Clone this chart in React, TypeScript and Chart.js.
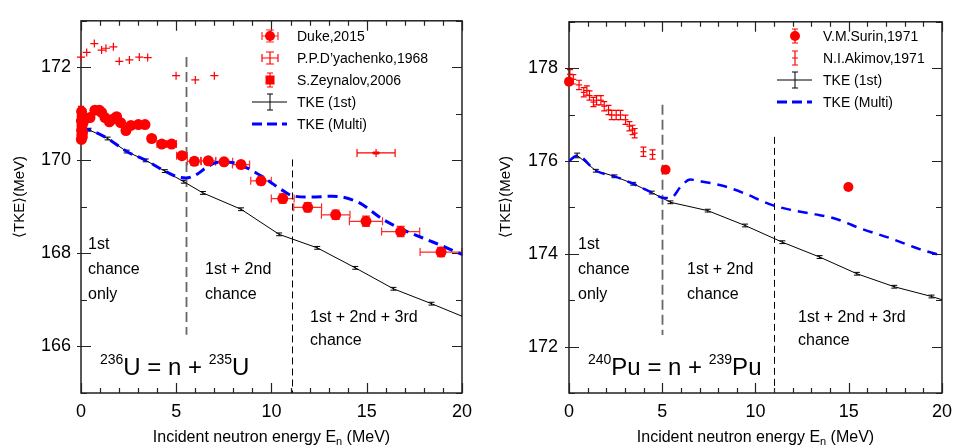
import React, { useEffect, useRef } from "react";
import { Chart, registerables } from "chart.js";
Chart.register(...registerables);

const FONT = '"Liberation Sans", Arial, Helvetica, sans-serif';
const RED = "#ff0000";
const BLUE = "#0000ff";

// ---------- shared x axis ----------
const xTickLabels = [0, 5, 10, 15, 20];

// ---------- U-236 panel ----------
const uYTicks = [166, 168, 170, 172];

const uDukeE = [0.02, 0.04, 0.03, 0.05, 0.02, 0.06, 0.03, 0.08, 0.1, 0.07,
  0.21, 0.47, 0.73, 0.96, 1.08, 1.26, 1.49, 1.7, 1.87, 2.08, 2.36, 2.62, 3.01, 3.36,
  3.71, 4.24, 4.76, 5.3, 5.95, 6.68, 7.51, 8.4, 9.45, 10.59, 11.9, 13.37, 14.96, 16.78, 18.9];
const uDukeTKE = [170.45, 170.55, 170.65, 170.75, 170.85, 170.95, 171.05, 170.6, 170.8, 170.5,
  170.89, 170.92, 171.08, 171.08, 171.03, 170.92, 170.83, 170.89, 170.94, 170.81, 170.64, 170.75, 170.77, 170.77,
  170.47, 170.35, 170.35, 170.1, 169.98, 169.99, 169.97, 169.91, 169.56, 169.18, 168.99, 168.83, 168.69, 168.47, 168.03];
const uDukeXErr = [0, 0, 0, 0, 0, 0, 0, 0, 0, 0,
  0, 0, 0, 0, 0, 0, 0, 0, 0, 0, 0, 0, 0, 0,
  0.15, 0.25, 0.25, 0.28, 0.37, 0.4, 0.45, 0.45, 0.54, 0.6, 0.73, 0.75, 0.87, 1.0, 1.1];
const uDukeYErr = [0.05, 0.05, 0.05, 0.05, 0.05, 0.05, 0.05, 0.05, 0.05, 0.05,
  0.05, 0.05, 0.05, 0.05, 0.05, 0.05, 0.05, 0.05, 0.05, 0.05, 0.05, 0.05, 0.05, 0.05,
  0.05, 0.05, 0.05, 0.06, 0.08, 0.07, 0.07, 0.07, 0.08, 0.1, 0.1, 0.1, 0.11, 0.11, 0.1];

const uDyachE = [0, 0.3, 0.7, 1.08, 1.31, 1.7, 2.01, 2.54, 3.06, 3.5, 4.99, 6.0, 7.0, 15.49];
const uDyachTKE = [172.22, 172.32, 172.51, 172.37, 172.41, 172.44, 172.13, 172.16, 172.22, 172.21, 171.82, 171.73, 171.82, 170.16];
const uDyachXErr = [0, 0, 0, 0, 0, 0, 0, 0, 0, 0, 0, 0, 0, 1.0];
const uDyachYErr = [0, 0, 0, 0, 0, 0, 0, 0, 0, 0, 0, 0, 0, 0.02];

const uZeynE = [0.0];
const uZeynTKE = [171.1];
const uZeynYErr = [0.06];

const uFirstE = [0, 0.4, 1.4, 2.4, 3.4, 4.4, 5.4, 6.4, 8.4, 10.4, 12.4, 14.4, 16.4, 18.4, 20];
const uFirstTKE = [170.68, 170.66, 170.47, 170.19, 170.0, 169.77, 169.54, 169.3, 168.95, 168.41, 168.12, 167.69, 167.24, 166.92, 166.65];
const uFirstErr = [0, 0.03, 0.03, 0.03, 0.03, 0.03, 0.03, 0.03, 0.03, 0.03, 0.03, 0.03, 0.03, 0.03, 0];

const uMultiE = [0, 0.4, 1.4, 2.4, 3.4, 4.4, 4.9, 5.5, 6.0, 6.6, 7.2, 7.8, 8.7, 9.6, 10.6, 11.1, 12.0, 13.2, 14.5, 15.9, 16.9, 18.5, 20];
const uMultiTKE = [170.68, 170.66, 170.47, 170.19, 170.0, 169.77, 169.67, 169.62, 169.68, 169.85, 169.96, 169.96, 169.84, 169.63, 169.35, 169.24, 169.21, 169.23, 169.11, 168.72, 168.51, 168.24, 167.98];

const uThresholds = [5.5, 11.1];

// ---------- Pu-240 panel ----------
const pYTicks = [172, 174, 176, 178];

const pSurinE = [0.0, 5.18, 14.98];
const pSurinTKE = [177.71, 175.81, 175.44];
const pSurinYErr = [0.07, 0.07, 0.07];

const pAkimovE = [0.05, 0.23, 0.54, 0.79, 0.96, 1.1, 1.31, 1.48, 1.71, 1.89, 2.12, 2.29, 2.53, 2.76, 3.03, 3.24, 3.41, 3.52, 3.99, 4.48];
const pAkimovTKE = [177.87, 177.76, 177.64, 177.48, 177.52, 177.41, 177.27, 177.31, 177.31, 177.18, 177.1, 176.99, 176.99, 176.99, 176.89, 176.75, 176.67, 176.6, 176.2, 176.14];
const pAkimovYErr = [0.1, 0.1, 0.1, 0.1, 0.1, 0.1, 0.1, 0.1, 0.1, 0.1, 0.1, 0.1, 0.1, 0.1, 0.1, 0.1, 0.1, 0.1, 0.1, 0.1];

const pFirstE = [0, 0.44, 1.44, 2.44, 3.44, 4.44, 5.44, 7.44, 9.44, 11.44, 13.44, 15.44, 17.44, 19.44, 20];
const pFirstTKE = [176.0, 176.12, 175.79, 175.67, 175.51, 175.32, 175.11, 174.93, 174.61, 174.25, 173.93, 173.57, 173.29, 173.08, 173.01];
const pFirstErr = [0, 0.05, 0.03, 0.03, 0.03, 0.03, 0.03, 0.03, 0.03, 0.03, 0.03, 0.03, 0.03, 0.03, 0];

const pMultiE = [0, 0.44, 1.44, 2.44, 3.44, 4.44, 5.0, 5.45, 6.0, 6.5, 7.1, 8.3, 9.3, 10.9, 12.1, 13.2, 14.0, 14.75, 15.6, 17.2, 18.8, 20];
const pMultiTKE = [176.0, 176.12, 175.79, 175.67, 175.51, 175.32, 175.21, 175.2, 175.45, 175.6, 175.56, 175.46, 175.32, 175.05, 174.93, 174.85, 174.79, 174.69, 174.55, 174.34, 174.1, 173.96];

const pThresholds = [5, 11];

// ---------- helpers ----------
const pts = (xs: number[], ys: number[]) => xs.map((x, i) => ({ x, y: ys[i] }));

const errorBarPlugin = {
  id: "errorBars",
  beforeDatasetsDraw(chart: any) {
    const { ctx } = chart;
    const xs = chart.scales.x;
    const ys = chart.scales.y;
    chart.data.datasets.forEach((ds: any) => {
      if (!ds.errX && !ds.errY) return;
      ctx.save();
      ctx.strokeStyle = ds.errColor || "#000";
      ctx.lineWidth = ds.errWidth || 1;
      ds.data.forEach((p: any, i: number) => {
        const px = xs.getPixelForValue(p.x);
        const py = ys.getPixelForValue(p.y);
        const ex = ds.errX ? ds.errX[i] : 0;
        const ey = ds.errY ? ds.errY[i] : 0;
        ctx.beginPath();
        if (ex > 0) {
          const x0 = xs.getPixelForValue(p.x - ex);
          const x1 = xs.getPixelForValue(p.x + ex);
          ctx.moveTo(x0, py); ctx.lineTo(x1, py);
          const c = ds.capX || 0;
          if (c) { ctx.moveTo(x0, py - c); ctx.lineTo(x0, py + c); ctx.moveTo(x1, py - c); ctx.lineTo(x1, py + c); }
        }
        if (ey > 0) {
          const y0 = ys.getPixelForValue(p.y - ey);
          const y1 = ys.getPixelForValue(p.y + ey);
          ctx.moveTo(px, y0); ctx.lineTo(px, y1);
          const c = ds.capY || 0;
          if (c) { ctx.moveTo(px - c, y0); ctx.lineTo(px + c, y0); ctx.moveTo(px - c, y1); ctx.lineTo(px + c, y1); }
        }
        ctx.stroke();
      });
      ctx.restore();
    });
  },
};

function drawLegendSymbol(ctx: CanvasRenderingContext2D, kind: string, x: number, y: number) {
  ctx.save();
  const capV = (cx: number, y0: number, y1: number, c: number) => {
    ctx.moveTo(cx, y0); ctx.lineTo(cx, y1);
    ctx.moveTo(cx - c, y0); ctx.lineTo(cx + c, y0);
    ctx.moveTo(cx - c, y1); ctx.lineTo(cx + c, y1);
  };
  const capH = (cy: number, x0: number, x1: number, c: number) => {
    ctx.moveTo(x0, cy); ctx.lineTo(x1, cy);
    ctx.moveTo(x0, cy - c); ctx.lineTo(x0, cy + c);
    ctx.moveTo(x1, cy - c); ctx.lineTo(x1, cy + c);
  };
  if (kind === "circleXY" || kind === "crossXY") {
    ctx.strokeStyle = kind === "circleXY" ? "#ff2a2a" : RED;
    ctx.lineWidth = 1.2;
    ctx.beginPath();
    capH(y, x - 8, x + 8, 4);
    capV(x, y - 6, y + 6, 4);
    ctx.stroke();
    if (kind === "circleXY") {
      ctx.fillStyle = RED;
      ctx.beginPath(); ctx.arc(x, y, 5, 0, Math.PI * 2); ctx.fill();
    }
  } else if (kind === "squareY") {
    ctx.strokeStyle = RED; ctx.lineWidth = 1.2;
    ctx.beginPath(); capV(x, y - 7, y + 7, 3); ctx.stroke();
    ctx.fillStyle = RED; ctx.fillRect(x - 4.5, y - 4.5, 9, 9);
  } else if (kind === "circleY") {
    ctx.strokeStyle = RED; ctx.lineWidth = 1.2;
    ctx.beginPath(); capV(x, y - 7, y + 7, 3); ctx.stroke();
    ctx.fillStyle = RED;
    ctx.beginPath(); ctx.arc(x, y, 5, 0, Math.PI * 2); ctx.fill();
  } else if (kind === "barY") {
    ctx.strokeStyle = RED; ctx.lineWidth = 1.2;
    ctx.beginPath(); capV(x, y - 7, y + 7, 3); ctx.moveTo(x - 3, y); ctx.lineTo(x + 3, y); ctx.stroke();
  } else if (kind === "line1st") {
    ctx.strokeStyle = "#000"; ctx.lineWidth = 1;
    ctx.beginPath(); ctx.moveTo(x - 18, y); ctx.lineTo(x + 17, y); capV(x, y - 8, y + 8, 3); ctx.stroke();
  } else if (kind === "dashed") {
    ctx.strokeStyle = BLUE; ctx.lineWidth = 3; ctx.setLineDash([10, 5]);
    ctx.beginPath(); ctx.moveTo(x - 18, y); ctx.lineTo(x + 17, y); ctx.stroke();
  }
  ctx.restore();
}

function drawRich(ctx: CanvasRenderingContext2D, parts: [string, number][], x: number, y: number, big: number, small: number, raise: number) {
  let cx = x;
  ctx.textBaseline = "alphabetic";
  ctx.textAlign = "left";
  parts.forEach(([t, sup]) => {
    ctx.font = `${sup ? small : big}px ${FONT}`;
    ctx.fillText(t, cx, sup ? y - raise : y);
    cx += ctx.measureText(t).width;
  });
}

function makeDecoPlugin(p: any) {
  return {
    id: "deco",
    beforeDatasetsDraw(chart: any) {
      const { ctx, chartArea: a } = chart;
      const xs = chart.scales.x;
      const ys = chart.scales.y;
      ctx.save();
      // threshold lines
      p.vlines.forEach((v: any) => {
        ctx.save();
        ctx.strokeStyle = v.color; ctx.lineWidth = v.width; ctx.setLineDash(v.dash);
        const px = Math.round(xs.getPixelForValue(v.x)) + 0.5;
        ctx.beginPath();
        ctx.moveTo(px, ys.getPixelForValue(v.y0));
        ctx.lineTo(px, ys.getPixelForValue(v.y1));
        ctx.stroke();
        ctx.restore();
      });
      // frame
      ctx.strokeStyle = "#222";
      ctx.lineWidth = 1.5;
      ctx.strokeRect(a.left, a.top, a.right - a.left, a.bottom - a.top);
      // ticks
      ctx.lineWidth = 1.2;
      ctx.beginPath();
      for (let v = xs.min; v <= xs.max + 1e-9; v += 1) {
        const px = Math.round(xs.getPixelForValue(v)) + 0.5;
        const len = v % 5 === 0 ? 10 : 5;
        ctx.moveTo(px, a.bottom); ctx.lineTo(px, a.bottom - len);
        ctx.moveTo(px, a.top); ctx.lineTo(px, a.top + len);
      }
      for (let v = Math.ceil(ys.min); v <= ys.max + 1e-9; v += 1) {
        const py = Math.round(ys.getPixelForValue(v)) + 0.5;
        const major = p.yTicks.includes(v);
        const len = major ? 10 : 6;
        ctx.moveTo(a.left - (major ? 4 : 0), py); ctx.lineTo(a.left + len, py);
        ctx.moveTo(a.right, py); ctx.lineTo(a.right - len, py);
      }
      ctx.stroke();
      ctx.restore();
    },
    afterDatasetsDraw(chart: any) {
      const { ctx, chartArea: a } = chart;
      ctx.save();
      ctx.fillStyle = "#000";
      // annotations
      ctx.font = `16px ${FONT}`;
      ctx.textAlign = "left";
      ctx.textBaseline = "middle";
      p.notes.forEach((n: any) => ctx.fillText(n.t, n.x, n.y));
      // nucleus label
      drawRich(ctx, p.iso, p.isoX, 375, 24, 14, 11);
      // legend
      ctx.font = `14px ${FONT}`;
      p.legend.forEach((it: any, i: number) => {
        const y = p.legendRows[i];
        drawLegendSymbol(ctx, it.kind, p.legendSymX, y);
        ctx.fillStyle = "#000";
        ctx.font = `14px ${FONT}`;
        ctx.textAlign = "left";
        ctx.textBaseline = "middle";
        ctx.fillText(it.label, p.legendTextX, y + 1);
      });
      // y title
      ctx.save();
      ctx.translate(p.yTitleX, 197);
      ctx.rotate(-Math.PI / 2);
      ctx.font = `15px ${FONT}`;
      ctx.textAlign = "center";
      ctx.textBaseline = "middle";
      ctx.fillText("\u27E8TKE\u27E9(MeV)", 0, 0);
      ctx.restore();
      // x title with subscript
      const big = `16px ${FONT}`;
      const small = `11px ${FONT}`;
      const t1 = "Incident neutron energy E";
      const t2 = "n";
      const t3 = " (MeV)";
      ctx.font = big; const w1 = ctx.measureText(t1).width; const w3 = ctx.measureText(t3).width;
      ctx.font = small; const w2 = ctx.measureText(t2).width;
      const total = w1 + w2 + w3;
      let x = (a.left + a.right) / 2 - total / 2;
      const yb = 442;
      ctx.textAlign = "left";
      ctx.textBaseline = "alphabetic";
      ctx.font = big; ctx.fillText(t1, x, yb); x += w1;
      ctx.font = small; ctx.fillText(t2, x, yb + 3); x += w2;
      ctx.font = big; ctx.fillText(t3, x, yb);
      ctx.restore();
    },
  };
}

function buildConfig(p: any) {
  return {
    type: "scatter",
    data: { datasets: p.datasets },
    options: {
      responsive: false,
      animation: false,
      events: [],
      layout: { padding: { top: 13, right: p.padRight, left: 0, bottom: 0 } },
      plugins: { legend: { display: false }, tooltip: { enabled: false } },
      scales: {
        x: {
          type: "linear", min: 0, max: 20,
          grid: { display: false, drawTicks: false }, border: { display: false },
          afterBuildTicks: (s: any) => { s.ticks = xTickLabels.map((value) => ({ value })); },
          afterFit: (s: any) => { s.height = 54; },
          ticks: { font: { family: FONT, size: 18 }, color: "#000", padding: 8, maxRotation: 0, autoSkip: false },
        },
        y: {
          type: "linear", min: p.yMin, max: p.yMax,
          grid: { display: false, drawTicks: false }, border: { display: false },
          afterBuildTicks: (s: any) => { s.ticks = p.yTicks.map((value: number) => ({ value })); },
          afterFit: (s: any) => { s.width = p.yAxisWidth; },
          ticks: { font: { family: FONT, size: 18 }, color: "#000", padding: p.yTickPad, autoSkip: false },
        },
      },
    },
    plugins: [errorBarPlugin, makeDecoPlugin(p)],
  };
}

const lineDs = (data: any, extra: any) => ({
  data, showLine: true, pointRadius: 0, fill: false, ...extra,
});

const uPanel = {
  yMin: 165, yMax: 173, yTicks: uYTicks, padRight: 18, yAxisWidth: 81, yTickPad: 10,
  vlines: [
    { x: uThresholds[0], y0: 172.22, y1: 166.25, color: "#666", width: 1.8, dash: [10, 5] },
    { x: uThresholds[1], y0: 170.02, y1: 165, color: "#000", width: 1, dash: [7, 4] },
  ],
  notes: [
    { t: "1st", x: 88, y: 245 }, { t: "chance", x: 88, y: 270 }, { t: "only", x: 88, y: 295 },
    { t: "1st + 2nd", x: 205, y: 270 }, { t: "chance", x: 205, y: 295 },
    { t: "1st + 2nd + 3rd", x: 310, y: 318 }, { t: "chance", x: 310, y: 341 },
  ],
  iso: [["236", 1], ["U = n + ", 0], ["235", 1], ["U", 0]],
  isoX: 100,
  legendSymX: 270, legendTextX: 297, legendRows: [36, 58, 80, 102, 124],
  legend: [
    { label: "Duke,2015", kind: "circleXY" },
    { label: "P.P.D\u2019yachenko,1968", kind: "crossXY" },
    { label: "S.Zeynalov,2006", kind: "squareY" },
    { label: "TKE (1st)", kind: "line1st" },
    { label: "TKE (Multi)", kind: "dashed" },
  ],
  yTitleX: 20,
  datasets: [
    { data: pts(uDukeE, uDukeTKE), pointStyle: "circle", pointRadius: 5.5, backgroundColor: RED, borderWidth: 0, clip: false,
      errX: uDukeXErr, errY: uDukeYErr, errColor: "#ff2a2a", errWidth: 1.2, capX: 4, capY: 4 },
    { data: pts(uDyachE, uDyachTKE), pointStyle: "cross", pointRadius: 4, borderColor: RED, borderWidth: 1.2, clip: false,
      errX: uDyachXErr, errY: uDyachYErr, errColor: RED, errWidth: 1.2, capX: 4, capY: 3 },
    { data: pts(uZeynE, uZeynTKE), pointStyle: "rect", pointRadius: 4, backgroundColor: RED, borderWidth: 0, clip: false,
      errY: uZeynYErr, errColor: RED, errWidth: 1.2, capY: 3 },
    lineDs(pts(uMultiE, uMultiTKE), { borderColor: BLUE, borderWidth: 3, borderDash: [10, 6], cubicInterpolationMode: "monotone" }),
    lineDs(pts(uFirstE, uFirstTKE), { borderColor: "#000", borderWidth: 1, errY: uFirstErr, errColor: "#000", errWidth: 1, capY: 3 }),
  ],
};

const pPanel = {
  yMin: 171, yMax: 179, yTicks: pYTicks, padRight: 10, yAxisWidth: 89, yTickPad: 11,
  vlines: [
    { x: pThresholds[0], y0: 177.21, y1: 172.25, color: "#666", width: 1.8, dash: [10, 5] },
    { x: pThresholds[1], y0: 176.52, y1: 171, color: "#000", width: 1, dash: [7, 4] },
  ],
  notes: [
    { t: "1st", x: 98, y: 245 }, { t: "chance", x: 98, y: 270 }, { t: "only", x: 98, y: 295 },
    { t: "1st + 2nd", x: 207, y: 270 }, { t: "chance", x: 207, y: 295 },
    { t: "1st + 2nd + 3rd", x: 318, y: 318 }, { t: "chance", x: 318, y: 341 },
  ],
  iso: [["240", 1], ["Pu = n + ", 0], ["239", 1], ["Pu", 0]],
  isoX: 108,
  legendSymX: 315, legendTextX: 343, legendRows: [36, 58, 80, 102],
  legend: [
    { label: "V.M.Surin,1971", kind: "circleY" },
    { label: "N.I.Akimov,1971", kind: "barY" },
    { label: "TKE (1st)", kind: "line1st" },
    { label: "TKE (Multi)", kind: "dashed" },
  ],
  yTitleX: 26,
  datasets: [
    { data: pts(pSurinE, pSurinTKE), pointStyle: "circle", pointRadius: 5, backgroundColor: RED, borderWidth: 0, clip: false,
      errY: pSurinYErr, errColor: RED, errWidth: 1.2, capY: 3 },
    { data: pts(pAkimovE, pAkimovTKE), pointStyle: "line", pointRadius: 3, borderColor: RED, borderWidth: 1.2, clip: false,
      errY: pAkimovYErr, errColor: RED, errWidth: 1.2, capY: 3 },
    lineDs(pts(pMultiE, pMultiTKE), { borderColor: BLUE, borderWidth: 2.5, borderDash: [10, 7], cubicInterpolationMode: "monotone" }),
    lineDs(pts(pFirstE, pFirstTKE), { borderColor: "#000", borderWidth: 1, errY: pFirstErr, errColor: "#000", errWidth: 1, capY: 3 }),
  ],
};

function Panel({ panel }: { panel: any }) {
  const ref = useRef<HTMLCanvasElement | null>(null);
  useEffect(() => {
    if (!ref.current) return;
    const chart = new Chart(ref.current, buildConfig(panel) as any);
    return () => chart.destroy();
  }, [panel]);
  return <canvas ref={ref} width={480} height={447} style={{ display: "block", width: 480, height: 447 }} />;
}

export default function App() {
  return (
    <div style={{ position: "absolute", left: 0, top: 0, width: 960, height: 447, display: "flex", background: "#fff" }}>
      <Panel panel={uPanel} />
      <Panel panel={pPanel} />
    </div>
  );
}
